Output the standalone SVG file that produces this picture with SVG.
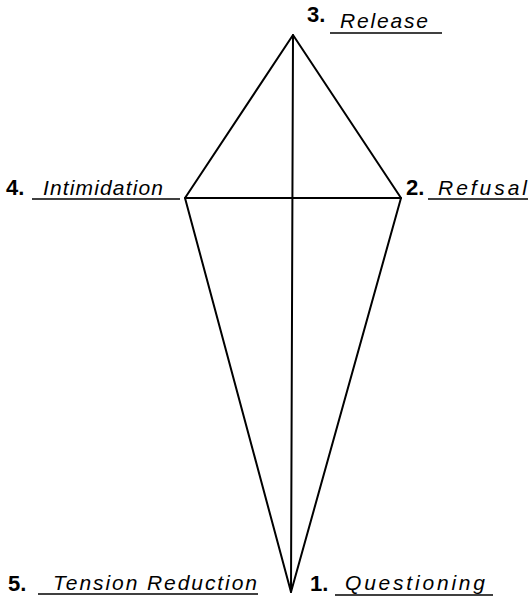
<svg xmlns="http://www.w3.org/2000/svg" width="531" height="599" viewBox="0 0 531 599">
<style>
.edge{stroke:#000;stroke-width:2;fill:none;stroke-linecap:round;stroke-linejoin:round}
.ul{stroke:#000;stroke-width:1.5}
.num{font-family:"Liberation Sans",Arial,sans-serif;font-weight:bold;font-size:22px;fill:#000}
.lbl{font-family:"Liberation Sans",Arial,sans-serif;font-style:italic;font-size:21px;fill:#000}
</style>
<rect width="531" height="599" fill="#fff"/>
<g id="connectors">
<polygon class="edge" points="293,35 401,198 291,592 185,198"/>
<line class="edge" x1="293" y1="35" x2="291" y2="592"/>
<line class="edge" x1="185" y1="198" x2="401" y2="198"/>
</g>
<g id="node-release">
<text class="num" x="307" y="22">3.</text>
<text class="lbl" x="340" y="28" textLength="88" lengthAdjust="spacing">Release</text>
<line class="ul" x1="330" y1="33" x2="442" y2="33"/>
</g>
<g id="node-intimidation">
<text class="num" x="6" y="195">4.</text>
<text class="lbl" x="43" y="195" textLength="120" lengthAdjust="spacing">Intimidation</text>
<line class="ul" x1="32" y1="199" x2="180" y2="199"/>
</g>
<g id="node-refusal">
<text class="num" x="406" y="195">2.</text>
<text class="lbl" x="438" y="195" textLength="89" lengthAdjust="spacing">Refusal</text>
<line class="ul" x1="428" y1="199" x2="528" y2="199"/>
</g>
<g id="node-tension-reduction">
<text class="num" x="8" y="591">5.</text>
<text class="lbl" x="53" y="590" textLength="204" lengthAdjust="spacing">Tension Reduction</text>
<line class="ul" x1="38" y1="594" x2="258" y2="594"/>
</g>
<g id="node-questioning">
<text class="num" x="310" y="591">1.</text>
<text class="lbl" x="345" y="590" textLength="140" lengthAdjust="spacing">Questioning</text>
<line class="ul" x1="335" y1="595" x2="493" y2="595"/>
</g>
</svg>
